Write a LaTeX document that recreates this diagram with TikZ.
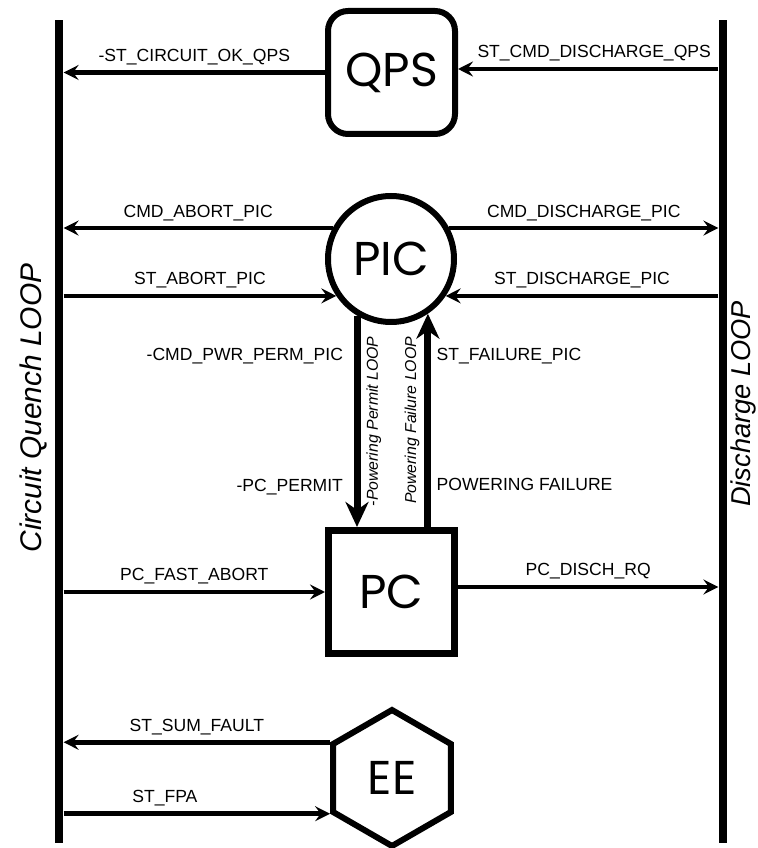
\documentclass[tikz,border=0pt]{standalone}
\usepackage{fontspec}
\setmainfont{Liberation Sans}
\newfontfamily\blockfont{Poppins}
\usetikzlibrary{arrows.meta,shapes.geometric}

\begin{document}
\begin{tikzpicture}[x=1cm,y=1cm,font=\fontsize{10}{12}\selectfont,
 loopbus/.style={fill=black,inner sep=0pt,minimum width=.17cm,minimum height=16.46cm},
 block/.style={draw=black,line width=.12cm,align=center,inner sep=0pt,font=\blockfont\fontsize{27}{30}\selectfont},
 ar/.style={-{Stealth[length=3mm,width=3mm,inset=1.1mm]},line width=.09cm},
 arb/.style={-{Stealth[length=5mm,width=4.6mm,inset=1.6mm]},line width=.14cm},
 lab/.style={inner sep=1pt},
 looplab/.style={font=\itshape\fontsize{17}{20}\selectfont,rotate=90,inner sep=0pt},
 sublab/.style={font=\itshape\fontsize{9}{11}\selectfont,rotate=90}]
\useasboundingbox (0,0) rectangle (15.16,16.96);
% the two loops
\node[loopbus] (cqloop) at (1.18,8.33) {};
\node[loopbus] (dloop) at (14.46,8.33) {};
\node[looplab,anchor=south] (cqlab) at ([shift={(-.14,.47)}]cqloop.west) {Circuit Quench LOOP};
\node[looplab,anchor=north,font=\itshape\fontsize{15.5}{18}\selectfont] (dlab) at ([shift={(.06,.55)}]dloop.east) {Discharge LOOP};
% systems
\node[block,rounded corners=.4cm,minimum width=2.54cm,minimum height=2.46cm] (qps) at (7.83,15.51) {QPS};
\node[block,circle,minimum size=2.52cm] (pic) at (7.82,11.78) {PIC};
\node[block,line width=.14cm,minimum width=2.52cm,minimum height=2.46cm] (pc) at (7.83,5.12) {PC};
\node[block,regular polygon,regular polygon sides=6,shape border rotate=30,minimum size=2.72cm] (ee) at (7.84,1.40) {EE};
% QPS
\draw[ar] (qps.west) -- node[lab,above=2pt] {-ST\_CIRCUIT\_OK\_QPS} (qps.west -| cqloop.east);
\draw[ar] ([yshift=.07cm]qps.east -| dloop.west) -- node[lab,above=2pt,xshift=.12cm] {ST\_CMD\_DISCHARGE\_QPS} ([yshift=.07cm]qps.east);
% PIC
\draw[ar] (pic.152) -- node[lab,above=2pt] {CMD\_ABORT\_PIC} (pic.152 -| cqloop.east);
\draw[ar] (pic.214 -| cqloop.east) -- node[lab,above=2pt] {ST\_ABORT\_PIC} (pic.214);
\draw[ar] (pic.28) -- node[lab,above=2pt] {CMD\_DISCHARGE\_PIC} (pic.28 -| dloop.west);
\draw[ar] (pic.326 -| dloop.west) -- node[lab,above=2pt] {ST\_DISCHARGE\_PIC} (pic.326);
\draw[arb] (pic.239) -- node[lab,left=5pt,pos=.19] {-CMD\_PWR\_PERM\_PIC}
 node[lab,left=5pt,pos=.81] {-PC\_PERMIT}
 node[sublab,anchor=north,inner sep=.12cm] {-Powering Permit LOOP} (pic.239 |- pc.north);
\draw[arb] (pic.304 |- pc.north) -- node[lab,right=2pt,pos=.2] {POWERING FAILURE}
 node[lab,right=2pt,pos=.8] {ST\_FAILURE\_PIC}
 node[sublab,anchor=south,inner sep=.1cm] {Powering Failure LOOP} (pic.304);
% PC
\draw[ar] (pc.west -| cqloop.east) -- node[lab,above=2pt] {PC\_FAST\_ABORT} (pc.west);
\draw[ar] ([yshift=.1cm]pc.east) -- node[lab,above=2pt] {PC\_DISCH\_RQ} ([yshift=.1cm]pc.east -| dloop.west);
% EE
\draw[ar] (ee.150) -- node[lab,above=2pt] {ST\_SUM\_FAULT} (ee.150 -| cqloop.east);
\draw[ar] (ee.210 -| cqloop.east) -- node[lab,above=2pt,pos=.38] {ST\_FPA} (ee.210);
\end{tikzpicture}
\end{document}
